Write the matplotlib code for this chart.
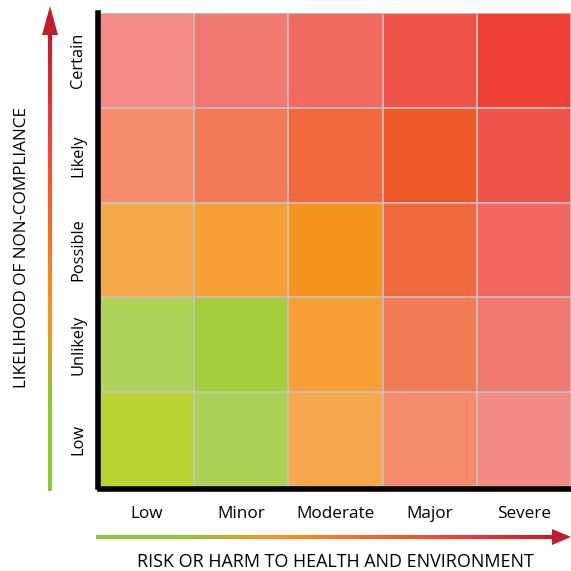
import matplotlib
matplotlib.use("Agg")
import matplotlib.pyplot as plt
import numpy as np
from matplotlib.colors import to_rgb, LinearSegmentedColormap
from matplotlib.collections import LineCollection
from matplotlib.patches import Polygon

plt.rcParams['font.family'] = ['Open Sans', 'DejaVu Sans']

# Categorias
impacto = ['Low', 'Minor', 'Moderate', 'Major', 'Severe']
probabilidad = ['Low', 'Unlikely', 'Possible', 'Likely', 'Certain']

# Colores por fila (de abajo hacia arriba)
fila_low = ['#BCD432', '#ACD157', '#F7A84C', '#F58B6B', '#F48A85']
fila_unlikely = ['#AED25A', '#A3CD3B', '#F69F36', '#F27B55', '#F27972']
fila_possible = ['#F7A84B', '#F69F34', '#F6941D', '#F2693E', '#F1675F']
fila_likely = ['#F68C6C', '#F27B55', '#F2693D', '#F05A2A', '#EF5249']
fila_certain = ['#F48B86', '#F27971', '#F1695F', '#EF5249', '#EE4035']

colores = [fila_low, fila_unlikely, fila_possible, fila_likely, fila_certain]
rgb = np.array([[to_rgb(c) for c in fila] for fila in colores])

W = H = 571
fig = plt.figure(figsize=(W / 100, H / 100), dpi=100)

# Ejes principales (pixeles -> fraccion)
x0, x1, y0, y1 = 100, 571, 13, 487
ax = fig.add_axes([x0 / W, 1 - y1 / H, (x1 - x0) / W, (y1 - y0) / H])
ax.imshow(rgb, origin='lower', extent=(-0.5, 4.5, -0.5, 4.5), aspect='auto')

ax.set_xticks(range(len(impacto)))
ax.set_xticklabels(impacto)
ax.set_yticks(range(len(probabilidad)))
ax.set_yticklabels([])
ax.tick_params(length=0)
ax.tick_params(axis='x', pad=12, labelsize=12.3)

# etiquetas verticales a mano (centradas en cada fila)
for i, etiqueta in enumerate(probabilidad):
    ax.text(-22 / (x1 - x0), i, etiqueta, transform=ax.get_yaxis_transform(),
            rotation=90, ha='center', va='center', fontsize=11.8)

# Lineas de la grilla
ax.set_xticks(np.arange(-0.5, 5, 1), minor=True)
ax.set_yticks(np.arange(-0.5, 5, 1), minor=True)
ax.grid(which='minor', color='#C4C4C4', linewidth=1.2)
ax.tick_params(which='minor', length=0)
ax.set_xlim(-0.5, 4.5)
ax.set_ylim(-0.5, 4.5)

for lado in ['top', 'right']:
    ax.spines[lado].set_visible(False)
for lado in ['left', 'bottom']:
    ax.spines[lado].set_linewidth(4)
    ax.spines[lado].set_position(('outward', 1.5))
    ax.spines[lado].set_capstyle('projecting')
    ax.spines[lado].set_zorder(5)

# Etiquetas de los ejes
fig.text(22 / W, 1 - 248 / H, 'LIKELIHOOD OF NON-COMPLIANCE', rotation=90,
         ha='center', va='center', fontsize=12.3)
fig.text(335 / W, 1 - 562 / H, 'RISK OR HARM TO HEALTH AND ENVIRONMENT',
         ha='center', va='center', fontsize=12.9)

# Flechas con degradado
cmap_flecha = LinearSegmentedColormap.from_list(
    'flecha', [(0.0, '#8DC63F'), (0.18, '#8DC63F'), (0.40, '#F7941D'),
               (0.78, '#EF4136'), (1.0, '#BE1E2D')])

ov = fig.add_axes([0, 0, 1, 1])
ov.set_xlim(0, W)
ov.set_ylim(H, 0)
ov.axis('off')
ov.patch.set_alpha(0)

n = 300
# vertical
ys = np.linspace(491, 30, n)
segs = [[(50, ys[i]), (50, ys[i + 1])] for i in range(n - 1)]
lc = LineCollection(segs, cmap=cmap_flecha, linewidths=3, capstyle='butt')
lc.set_array(np.linspace(0, 1, n - 1))
ov.add_collection(lc)
ov.add_patch(Polygon([(42, 35), (58, 35), (50, 6)], closed=True,
                     facecolor='#BE1E2D', edgecolor='none'))

# horizontal
xs = np.linspace(96, 555, n)
segs = [[(xs[i], 537), (xs[i + 1], 537)] for i in range(n - 1)]
lc2 = LineCollection(segs, cmap=cmap_flecha, linewidths=3, capstyle='butt')
lc2.set_array(np.linspace(0, 1, n - 1))
ov.add_collection(lc2)
ov.add_patch(Polygon([(552, 529), (552, 545), (571, 537)], closed=True,
                     facecolor='#BE1E2D', edgecolor='none'))

fig.savefig('out.png', dpi=100)
